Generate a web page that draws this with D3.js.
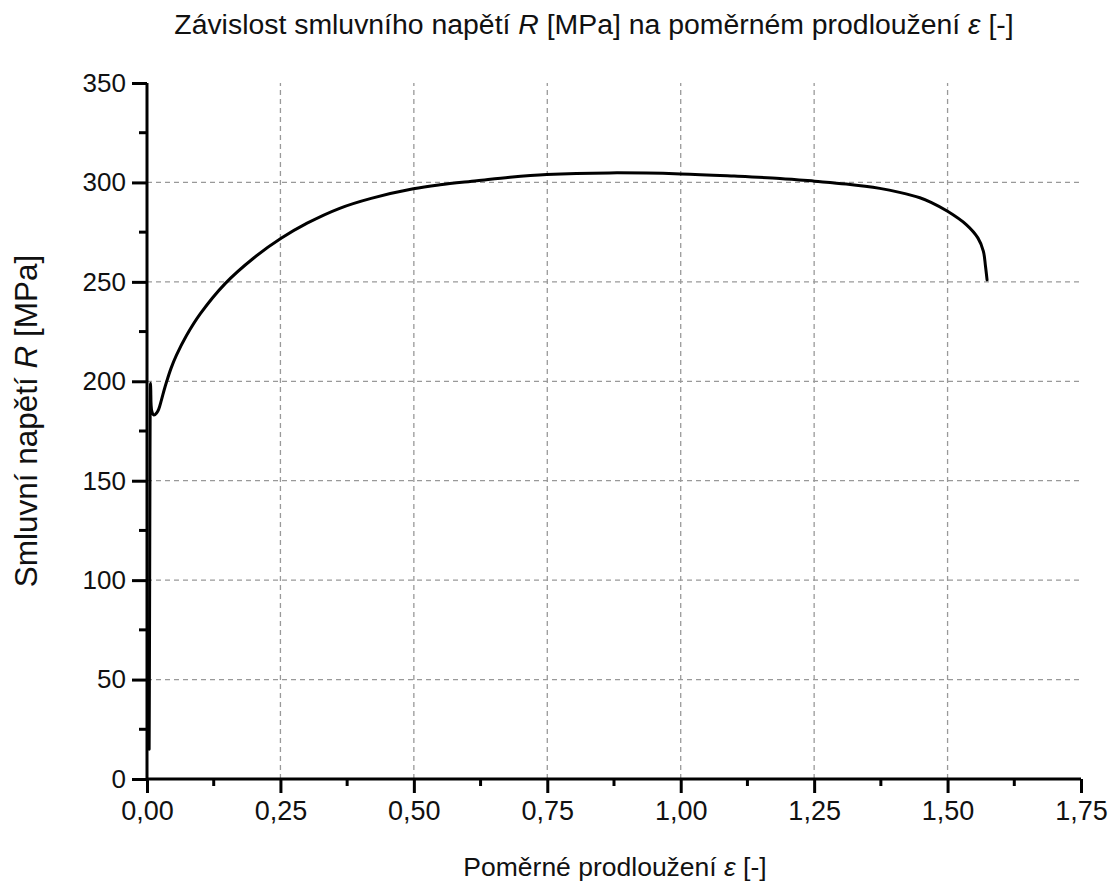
<!DOCTYPE html>
<html>
<head>
<meta charset="utf-8">
<script src="https://cdn.jsdelivr.net/npm/d3@7"></script>
<style>
  html, body { margin: 0; padding: 0; background: #fff; }
  svg text { font-family: "Liberation Sans", Arial, sans-serif; fill: #111; }
</style>
</head>
<body>
<svg id="chart" width="1115" height="894"></svg>
<script>
// Tensile test: engineering strain vs engineering stress
const strain = [0.004, 0.0045, 0.005, 0.0055, 0.006, 0.0065, 0.007, 0.009, 0.013, 0.018,
  0.022, 0.027, 0.032, 0.037, 0.045, 0.055, 0.074, 0.1, 0.146, 0.2,
  0.252, 0.3, 0.361, 0.42, 0.499, 0.549, 0.618, 0.68, 0.749, 0.867,
  1.0, 1.1, 1.186, 1.251, 1.31, 1.373, 1.41, 1.448, 1.469, 1.5, 1.535, 1.557, 1.567,
  1.571, 1.574];
const stress = [15, 50, 100, 150, 190, 199, 196, 185, 183, 184,
  186, 190.5, 195.5, 200, 206.5, 213, 223, 234, 249, 262,
  272, 279.5, 287, 292, 296.8, 298.8, 300.8, 302.6, 304, 304.8,
  304.3, 303.2, 302, 300.6, 299.2, 297, 295, 292.3, 290, 285.5, 278.8, 272, 265.5,
  258, 251];

const xTicks = [0, 0.25, 0.5, 0.75, 1.0, 1.25, 1.5, 1.75];
const yTicks = [0, 50, 100, 150, 200, 250, 300, 350];
const xMinor = [0.125, 0.375, 0.625, 0.875, 1.125, 1.375, 1.625];
const yMinor = [25, 75, 125, 175, 225, 275, 325];

const titleText = "Závislost smluvního napětí ";
const xLabel = "Poměrné prodloužení ";
const yLabel = "Smluvní napětí ";

const svg = d3.select("#chart");
const plotL = 147, plotR = 1081, plotT = 83, plotB = 779;

const x = d3.scaleLinear().domain([0, 1.75]).range([plotL, plotR]);
const y = d3.scaleLinear().domain([0, 350]).range([plotB, plotT]);

const fmt = d => d3.format(".2f")(d).replace(".", ",");

// dashed grid
const grid = svg.append("g");
grid.selectAll("line.gx").data(xTicks.filter(d => d > 0 && d < 1.75)).join("line")
  .attr("x1", d => x(d)).attr("x2", d => x(d))
  .attr("y1", y(0)).attr("y2", y(350))
  .attr("stroke", "#999").attr("stroke-width", 1.3).attr("stroke-dasharray", "5,4");
grid.selectAll("line.gy").data(yTicks.filter(d => d > 0 && d < 350)).join("line")
  .attr("y1", d => y(d)).attr("y2", d => y(d))
  .attr("x1", x(0)).attr("x2", x(1.75))
  .attr("stroke", "#999").attr("stroke-width", 1.3).attr("stroke-dasharray", "5,4");

// curve
const line = d3.line().x((d, i) => x(strain[i])).y((d, i) => y(stress[i]))
  .curve(d3.curveCatmullRom.alpha(0.5));
svg.append("path").datum(stress).attr("d", line)
  .attr("fill", "none").attr("stroke", "#000").attr("stroke-width", 3)
  .attr("stroke-linejoin", "round").attr("stroke-linecap", "round");

// x axis
const xAxis = d3.axisBottom(x).tickValues(xTicks).tickFormat(fmt).tickSize(14).tickPadding(8);
const gx = svg.append("g").attr("transform", `translate(0,${plotB})`).call(xAxis);
gx.selectAll(".tick line").attr("stroke", "#000").attr("stroke-width", 3);
gx.select(".domain").attr("stroke", "#000").attr("stroke-width", 3);
gx.selectAll("text").attr("font-size", 27).attr("fill", "#111")
  .attr("font-family", "Liberation Sans, Arial, sans-serif");
gx.selectAll("line.minor").data(xMinor).join("line").attr("class", "minor")
  .attr("x1", d => x(d)).attr("x2", d => x(d)).attr("y1", 0).attr("y2", 7)
  .attr("stroke", "#000").attr("stroke-width", 3);

// y axis
const yAxis = d3.axisLeft(y).tickValues(yTicks).tickFormat(d3.format("d")).tickSize(15).tickPadding(6);
const gy = svg.append("g").attr("transform", `translate(${plotL},0)`).call(yAxis);
gy.selectAll(".tick line").attr("stroke", "#000").attr("stroke-width", 3);
gy.select(".domain").attr("stroke", "#000").attr("stroke-width", 3);
gy.selectAll("text").attr("font-size", 26).attr("fill", "#111")
  .attr("font-family", "Liberation Sans, Arial, sans-serif");
gy.selectAll("line.minor").data(yMinor).join("line").attr("class", "minor")
  .attr("y1", d => y(d)).attr("y2", d => y(d)).attr("x1", 0).attr("x2", -8)
  .attr("stroke", "#000").attr("stroke-width", 3);
// axis lines without outer end ticks
gx.select(".domain").attr("d", `M${plotL},0H${plotR}`);
gy.select(".domain").attr("d", `M0,${plotB}V${plotT}`);

// title
const t = svg.append("text").attr("x", 594).attr("y", 34)
  .attr("text-anchor", "middle").attr("font-size", 28.4);
t.append("tspan").text(titleText);
t.append("tspan").attr("font-style", "italic").text("R");
t.append("tspan").text(" [MPa] na poměrném prodloužení ");
t.append("tspan").attr("font-style", "italic").text("ε");
t.append("tspan").text(" [-]");

// x label
const xl = svg.append("text").attr("x", 615).attr("y", 876)
  .attr("text-anchor", "middle").attr("font-size", 26.5);
xl.append("tspan").text(xLabel);
xl.append("tspan").attr("font-style", "italic").text("ε");
xl.append("tspan").text(" [-]");

// y label
const yl = svg.append("text").attr("transform", "translate(37,421) rotate(-90)")
  .attr("text-anchor", "middle").attr("font-size", 31.5);
yl.append("tspan").text(yLabel);
yl.append("tspan").attr("font-style", "italic").text("R");
yl.append("tspan").text(" [MPa]");
</script>
</body>
</html>
